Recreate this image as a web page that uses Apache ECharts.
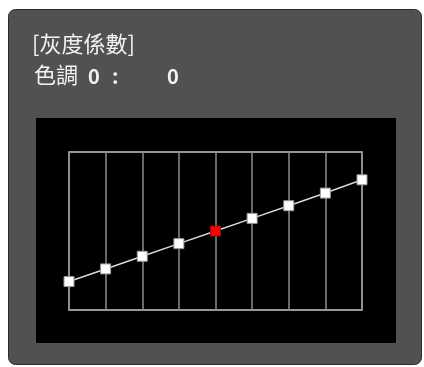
<!DOCTYPE html>
<html>
<head>
<meta charset="utf-8">
<script src="https://cdn.jsdelivr.net/npm/echarts@6/dist/echarts.min.js"></script>
<style>
html,body{margin:0;padding:0;background:#fff;}
#c{width:424px;height:367px;}
</style>
</head>
<body>
<div id="c"></div>
<script>
var categories = ['1','2','3','4','5','6','7','8','9'];
var values = [18, 26, 34, 42, 50, 58, 66, 74, 82.4];
var highlightIndex = 4;
var titleLine = '[灰度係數]';
var labelText = '色調';
var valueA = '0';
var valueB = '0';

var chart = echarts.init(document.getElementById('c'), null, {renderer: 'canvas'});
var seriesData = values.map(function (v, i) {
  if (i === highlightIndex) {
    return {value: v, itemStyle: {color: '#ff0000', borderColor: '#8a1010', borderWidth: 1}};
  }
  return v;
});
var font = '"Noto Sans CJK TC", "Noto Sans", sans-serif';
chart.setOption({
  backgroundColor: '#ffffff',
  animation: false,
  graphic: [
    {type: 'rect', z: -10, shape: {x: 8.5, y: 9.5, width: 413, height: 355, r: 7},
     style: {fill: '#515151', stroke: '#2a2a2a', lineWidth: 1}},
    {type: 'rect', z: -9, shape: {x: 36, y: 118, width: 360, height: 225},
     style: {fill: '#000000'}},
    {type: 'text', style: {x: 32, y: 33, text: titleLine, fill: '#f2f2f2', font: '22px ' + font}},
    {type: 'text', style: {x: 34, y: 64, text: labelText, fill: '#f2f2f2', font: '22px ' + font}},
    {type: 'text', style: {x: 88, y: 66, text: valueA, fill: '#f2f2f2', font: 'bold 20px ' + font}},
    {type: 'text', style: {x: 112, y: 66, text: ':', fill: '#f2f2f2', font: 'bold 20px ' + font}},
    {type: 'text', style: {x: 167, y: 66, text: valueB, fill: '#f2f2f2', font: 'bold 20px ' + font}}
  ],
  grid: {left: 69, right: 62, top: 152, bottom: 57, show: true,
         borderColor: '#c8c8c8', borderWidth: 1.5, backgroundColor: 'transparent'},
  xAxis: {
    type: 'category', data: categories, boundaryGap: false,
    axisLine: {show: false}, axisTick: {show: false}, axisLabel: {show: false},
    splitLine: {show: true, lineStyle: {color: '#8c8c8c', width: 1.5}}
  },
  yAxis: {
    type: 'value', min: 0, max: 100,
    axisLine: {show: false}, axisTick: {show: false}, axisLabel: {show: false},
    splitLine: {show: false}
  },
  series: [{
    type: 'line', data: seriesData, symbol: 'rect', symbolSize: 10,
    showAllSymbol: true,
    lineStyle: {color: '#d8d8d8', width: 1.5},
    itemStyle: {color: '#ffffff', borderColor: '#9a9a9a', borderWidth: 1}
  }]
});
</script>
</body>
</html>
